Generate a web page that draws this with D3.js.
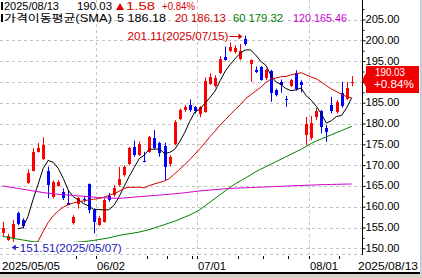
<!DOCTYPE html>
<html lang="ko">
<head>
<meta charset="utf-8">
<title>가격이동평균(SMA) 일봉 차트</title>
<script src="https://d3js.org/d3.v7.min.js"></script>
<style>
  body { margin: 0; background: #fff; }
  svg { display: block; }
  text { font-family: "Liberation Sans", Arial, sans-serif; font-size: 10px; }
  .kr { font-family: "Liberation Sans", "Noto Sans CJK KR", sans-serif; font-size: 10.5px; }
</style>
</head>
<body>
<script>
// trading days shown on the chart
var dates = [
  "2025/05/05","2025/05/06","2025/05/07","2025/05/08","2025/05/09","2025/05/12","2025/05/13","2025/05/14","2025/05/15","2025/05/16",
  "2025/05/19","2025/05/20","2025/05/21","2025/05/22","2025/05/23","2025/05/27","2025/05/28","2025/05/29","2025/05/30",
  "2025/06/02","2025/06/03","2025/06/04","2025/06/05","2025/06/06","2025/06/09","2025/06/10","2025/06/11","2025/06/12","2025/06/13",
  "2025/06/16","2025/06/17","2025/06/18","2025/06/20","2025/06/23","2025/06/24","2025/06/25","2025/06/26","2025/06/27","2025/06/30",
  "2025/07/01","2025/07/02","2025/07/03","2025/07/07","2025/07/08","2025/07/09","2025/07/10","2025/07/11","2025/07/14","2025/07/15",
  "2025/07/16","2025/07/17","2025/07/18","2025/07/21","2025/07/22","2025/07/23","2025/07/24","2025/07/25","2025/07/28","2025/07/29",
  "2025/07/30","2025/07/31","2025/08/01","2025/08/04","2025/08/05","2025/08/06","2025/08/07","2025/08/08","2025/08/11","2025/08/12",
  "2025/08/13"
];

var opens = [153.6,152.0,152.4,158.4,156.8,165.8,168.7,173.2,171.4,168.6,
  162.4,165.0,163.6,160.8,156.0,160.6,161.9,165.4,159.2,
  155.6,156.4,162.6,162.8,165.2,167.6,170.3,174.4,172.4,171.0,
  173.2,176.4,175.2,174.6,170.2,175.1,181.0,183.2,184.4,183.9,
  182.4,182.8,189.5,189.0,192.1,196.1,197.5,197.1,195.4,200.3,
  194.3,192.9,193.5,190.9,192.6,188.0,190.0,185.8,189.0,192.2,
  190.0,177.2,176.4,181.6,182.9,179.0,184.4,182.8,187.4,185.8,
  189.8];
var highs = [156.4,153.5,156.8,158.8,157.2,169.0,174.0,175.3,176.7,169.6,
  166.3,166.4,164.4,164.0,158.0,162.4,162.5,165.6,159.6,
  157.8,162.0,163.3,165.2,169.6,170.0,174.4,175.9,175.7,173.2,
  177.0,178.4,175.6,175.4,172.4,180.8,183.6,184.5,185.8,184.2,
  184.2,191.1,192.1,191.6,196.2,198.5,199.5,198.8,199.1,201.11,
  195.4,193.7,193.8,193.2,192.9,188.4,190.6,186.6,190.7,192.8,
  190.4,181.6,181.8,183.7,183.3,179.6,186.4,185.6,190.0,190.0,
  191.4];
var lows = [153.0,151.8,151.51,155.5,154.8,165.5,168.5,173.0,171.2,162.0,
  162.0,164.8,161.6,160.4,155.7,159.6,161.0,158.4,153.6,
  155.4,156.2,161.2,162.4,164.8,167.2,170.0,172.0,172.2,170.7,
  173.0,173.8,172.0,166.4,169.6,174.8,180.8,182.8,182.8,182.4,
  181.5,182.6,189.3,188.7,191.9,195.1,197.2,196.8,195.2,198.7,
  190.0,192.1,190.3,190.5,185.2,186.5,187.4,184.0,188.8,187.9,
  187.5,174.8,176.0,180.8,177.6,175.6,182.4,182.4,183.8,185.6,
  189.0];
var closes = [154.8,153.0,155.8,155.8,155.3,168.2,173.2,174.2,174.8,165.2,
  165.9,165.9,162.0,160.5,157.6,162.0,161.6,159.2,156.4,
  157.4,161.6,161.7,164.4,166.6,169.6,174.0,172.4,175.1,170.8,
  176.8,174.0,172.8,169.6,172.0,180.4,183.2,183.9,183.2,183.0,
  183.9,190.2,191.1,190.9,195.4,195.3,198.4,198.2,197.5,199.0,
  195.3,192.5,190.5,192.9,187.3,186.9,189.3,185.6,190.4,188.2,
  189.2,180.0,180.2,183.1,179.2,178.0,182.9,185.2,184.3,188.45,
  190.03];

var ma5 = [null,null,null,154.7,154.94,157.62,161.66,165.34,169.14,171.12,
  170.66,169.2,166.76,163.9,162.38,161.6,160.74,160.18,159.36,
  159.32,159.24,159.26,160.3,162.34,164.78,167.26,169.4,171.54,172.38,
  173.82,173.82,173.9,172.8,173.04,173.76,175.6,177.82,180.54,182.74,
  183.44,184.84,186.28,187.82,190.3,192.58,194.22,195.64,196.96,197.68,
  197.68,196.5,194.96,194.04,191.7,190.02,189.38,188.4,187.9,188.08,
  188.54,186.68,185.6,184.14,182.34,180.1,180.68,181.68,181.92,183.77,
  186.18];
var ma20 = [null,null,null,null,null,null,150.9,151.7,154.0,156.2,
  157.8,159.0,159.9,160.5,160.9,161.2,161.4,161.6,161.8,
  161.94,162.28,162.72,163.15,163.69,164.4,164.69,164.65,164.7,164.5,
  165.08,165.48,165.83,166.21,166.78,167.92,168.98,170.1,171.3,172.63,
  173.95,175.38,176.85,178.18,179.62,180.9,182.12,183.41,184.53,185.94,
  186.87,187.79,188.68,189.84,190.61,190.93,191.24,191.32,191.68,191.94,
  192.21,191.7,191.15,190.76,189.95,189.09,188.31,187.66,187.0,186.47,
  186.13];
var ma60 = [152.9,152.6,152.4,152.2,152.0,151.8,151.6,151.5,151.4,151.3,
  151.3,151.3,151.3,151.35,151.4,151.5,151.6,151.75,151.9,
  152.1,152.3,152.5,152.8,153.1,153.3,153.5,153.7,153.9,154.2,
  154.5,154.9,155.3,155.7,156.1,156.5,157.0,157.5,158.0,158.6,
  159.3,160.2,161.1,162.0,162.9,163.8,164.7,165.5,166.2,166.9,
  167.6,168.4,169.0,169.6,170.2,170.8,171.4,172.0,172.6,173.2,
  173.8,174.5,175.2,175.8,176.3,176.8,177.3,177.8,178.3,178.8,
  179.32];
var ma120 = [165.0,164.8,164.6,164.4,164.2,164.0,163.8,163.6,163.4,163.25,
  163.1,163.0,162.9,162.8,162.7,162.6,162.5,162.4,162.3,
  162.2,162.15,162.1,162.05,162.0,162.1,162.2,162.3,162.4,162.5,
  162.6,162.7,162.8,162.9,163.0,163.1,163.2,163.35,163.5,163.65,
  163.8,163.9,164.0,164.1,164.2,164.3,164.4,164.45,164.5,164.55,
  164.6,164.65,164.7,164.75,164.8,164.85,164.9,164.95,165.0,165.05,
  165.1,165.15,165.2,165.25,165.3,165.32,165.35,165.38,165.41,165.44,
  165.46];

var priceTicks = [150,155,160,165,170,175,180,185,190,195,200,205];
var minorTicks = [152.5,157.5,162.5,167.5,172.5,177.5,182.5,187.5,192.5,197.5,202.5,207.5];
var monthStarts = ["2025/06/02","2025/07/01","2025/08/01"];
var dateLabels = ["2025/05/05","2025/06/02","2025/07/01","2025/08/01","2025/08/13"];
var weekTicks = ["2025/05/27","2025/06/02","2025/06/16","2025/06/23","2025/06/30","2025/07/01",
  "2025/07/14","2025/07/21","2025/07/28","2025/08/01","2025/08/11"];
var maNames = ["5","20","60","120"];
var maColors = ["#000000","#d00000","#008000","#d000d0"];

var w = 422, h = 278;
var plotRight = 362, plotBottom = 254;

var xScale = d3.scalePoint().domain(dates).range([2.6, 351.7]);
var step = xScale.step();
var yScale = d3.scaleLinear().domain([150, 205]).range([248.3, 19.5]);

var svg = d3.select("body").append("svg").attr("width", w).attr("height", h);
svg.append("rect").attr("width", w).attr("height", h).attr("fill", "#fff");

svg.append("clipPath").attr("id", "plot")
  .append("rect").attr("x", 0).attr("y", 0).attr("width", plotRight).attr("height", plotBottom);

//grid
var grid = svg.append("g").attr("stroke", "#c4c4c4").attr("stroke-dasharray", "3,3");
grid.selectAll("line.h").data(priceTicks).enter().append("line")
  .attr("x1", 0).attr("x2", plotRight)
  .attr("y1", function(d) { return Math.round(yScale(d)) + 0.5; })
  .attr("y2", function(d) { return Math.round(yScale(d)) + 0.5; });
grid.selectAll("line.v").data(monthStarts).enter().append("line")
  .attr("x1", function(d) { return Math.round(xScale(d) - step / 2) + 0.5; })
  .attr("x2", function(d) { return Math.round(xScale(d) - step / 2) + 0.5; })
  .attr("y1", 0).attr("y2", plotBottom);
grid.append("line").attr("x1", 0).attr("x2", plotRight)
  .attr("y1", plotBottom + 0.5).attr("y2", plotBottom + 0.5);

var plot = svg.append("g").attr("clip-path", "url(#plot)");

//candles
var idx = d3.range(dates.length);
function cx(i) { return Math.round(xScale(dates[i])); }
function col(i) { return closes[i] >= opens[i] ? "#ff0000" : "#0000ff"; }

plot.selectAll("line.wick").data(idx).enter().append("line")
  .attr("x1", function(i) { return cx(i) + 0.5; })
  .attr("x2", function(i) { return cx(i) + 0.5; })
  .attr("y1", function(i) { return yScale(highs[i]); })
  .attr("y2", function(i) { return yScale(lows[i]); })
  .attr("stroke", col).attr("stroke-width", 1);

plot.selectAll("rect.body").data(idx).enter().append("rect")
  .attr("x", function(i) { return cx(i) - 1; })
  .attr("width", 3)
  .attr("y", function(i) { return Math.round(yScale(Math.max(opens[i], closes[i]))); })
  .attr("height", function(i) {
    return Math.max(1, Math.round(yScale(Math.min(opens[i], closes[i]))) - Math.round(yScale(Math.max(opens[i], closes[i]))));
  })
  .attr("fill", col);

//moving average lines
var mas = [ma5, ma20, ma60, ma120];
mas.forEach(function(ma, k) {
  var line = d3.line()
    .defined(function(d) { return d != null; })
    .x(function(d, i) { return xScale(dates[i]); })
    .y(function(d) { return yScale(d); });
  plot.append("path").datum(ma)
    .attr("d", line)
    .attr("fill", "none")
    .attr("stroke", maColors[k])
    .attr("stroke-width", 1);
});

//high / low markers
var hiIdx = d3.maxIndex(highs), loIdx = d3.minIndex(lows);
var hx = xScale(dates[hiIdx]) - 3, hy = yScale(highs[hiIdx]);
plot.append("text")
  .attr("x", hx - 14).attr("y", hy + 4.5)
  .attr("text-anchor", "end")
  .attr("fill", "#d00000")
  .attr("textLength", 101).attr("lengthAdjust", "spacingAndGlyphs")
  .text(highs[hiIdx].toFixed(2) + "(" + dates[hiIdx] + ")");
plot.append("line").attr("x1", hx - 13).attr("x2", hx - 3)
  .attr("y1", Math.round(hy) + 0.5).attr("y2", Math.round(hy) + 0.5)
  .attr("stroke", "#d00000");
plot.append("path")
  .attr("d", "M" + hx + "," + (Math.round(hy) + 0.5) + "l-4,-3v6z")
  .attr("fill", "#d00000");

var lx = xScale(dates[loIdx]) - 1, ly = yScale(lows[loIdx]);
plot.append("rect").attr("x", lx - 1).attr("y", ly).attr("width", 113).attr("height", 12).attr("fill", "#fff");
plot.append("line").attr("x1", lx + 2).attr("x2", lx + 7)
  .attr("y1", Math.round(ly + 5) + 0.5).attr("y2", Math.round(ly + 5) + 0.5)
  .attr("stroke", "#2020c0");
plot.append("path")
  .attr("d", "M" + lx + "," + (Math.round(ly + 5) + 0.5) + "l4,-3v6z")
  .attr("fill", "#2020c0");
plot.append("text")
  .attr("x", lx + 8).attr("y", ly + 9.5)
  .attr("fill", "#2020c0")
  .attr("textLength", 102).attr("lengthAdjust", "spacingAndGlyphs")
  .text(lows[loIdx].toFixed(2) + "(" + dates[loIdx] + ")");

//header
var last = dates.length - 1;
var chg = closes[last] - closes[last - 1];
var pct = chg / closes[last - 1] * 100;
svg.append("rect").attr("x", 1).attr("y", 2).attr("width", 2).attr("height", 8).attr("fill", "#000");
svg.append("rect").attr("x", 1).attr("y", 14).attr("width", 2).attr("height", 8).attr("fill", "#000");

var head1 = [
  { t: dates[last], x: 4, w: 55, c: "#000" },
  { t: closes[last].toFixed(2), x: 77, w: 35, c: "#000" },
  { t: chg.toFixed(2), x: 126, w: 29, c: "#e00000" },
  { t: "+" + pct.toFixed(2) + "%", x: 162, w: 33, c: "#e00000" }
];
svg.selectAll("text.h1").data(head1).enter().append("text")
  .attr("x", function(d) { return d.x; }).attr("y", 10)
  .attr("fill", function(d) { return d.c; })
  .attr("textLength", function(d) { return d.w; }).attr("lengthAdjust", "spacingAndGlyphs")
  .text(function(d) { return d.t; });
svg.append("path").attr("d", "M116,10h8l-4,-7z").attr("fill", "#e00000");

svg.append("text").attr("class", "kr")
  .attr("x", 4).attr("y", 22)
  .attr("textLength", 108).attr("lengthAdjust", "spacingAndGlyphs")
  .text("가격이동평균(SMA)");
var head2x = [117, 175, 233, 293];
var head2w = [49, 51, 50, 54];
svg.selectAll("text.h2").data(mas).enter().append("text")
  .attr("x", function(d, k) { return head2x[k]; }).attr("y", 22)
  .attr("fill", function(d, k) { return maColors[k]; })
  .attr("textLength", function(d, k) { return head2w[k]; }).attr("lengthAdjust", "spacingAndGlyphs")
  .text(function(d, k) { return maNames[k] + " " + d[last].toFixed(2); });

//price axis
var py = Math.round(yScale(closes[last])) - 2;
svg.append("line").attr("x1", plotRight + 0.5).attr("x2", plotRight + 0.5)
  .attr("y1", 0).attr("y2", plotBottom + 1).attr("stroke", "#000");

var yAxis = d3.axisRight(yScale).tickValues(priceTicks).tickSize(3).tickPadding(0)
  .tickFormat(d3.format(".2f"));
var ya = svg.append("g").attr("transform", "translate(" + (plotRight + 0.5) + ",0)").call(yAxis);
ya.select(".domain").remove();
ya.selectAll("text").attr("font-family", "Liberation Sans, Arial, sans-serif").attr("font-size", 10.5)
  .attr("dy", "0.3em").attr("textLength", 34).attr("lengthAdjust", "spacingAndGlyphs");
// the label under the price tag is covered in the original
ya.selectAll(".tick").filter(function(d) { return Math.abs(yScale(d) - py) < 14; })
  .select("text").remove();
var yMinor = d3.axisRight(yScale).tickValues(minorTicks).tickSize(2).tickFormat("");
var ym = svg.append("g").attr("transform", "translate(" + (plotRight + 0.5) + ",0)").call(yMinor);
ym.select(".domain").remove();

//current price tag
svg.append("path")
  .attr("d", "M" + plotRight + "," + py + "L366," + (py - 7) + "V" + (py - 14) + "H419V" + (py + 13) + "H366V" + (py + 7) + "Z")
  .attr("fill", "#f00000");
svg.append("text").attr("x", 375).attr("y", py - 4).attr("fill", "#fff")
  .attr("textLength", 30).attr("lengthAdjust", "spacingAndGlyphs")
  .text(closes[last].toFixed(2));
svg.append("text").attr("x", 374).attr("y", py + 8).attr("fill", "#fff")
  .attr("textLength", 40).attr("lengthAdjust", "spacingAndGlyphs")
  .text("+" + pct.toFixed(2) + "%");

//date axis
svg.selectAll("line.wt").data(weekTicks).enter().append("line")
  .attr("x1", function(d) { return Math.round(xScale(d) - step / 2) + 0.5; })
  .attr("x2", function(d) { return Math.round(xScale(d) - step / 2) + 0.5; })
  .attr("y1", 256).attr("y2", 259)
  .attr("stroke", "#000");

var dl = svg.selectAll("text.dl").data(dateLabels).enter().append("text")
  .attr("y", 269.5).attr("font-size", 11)
  .text(function(d, k) { return (k == 0 || k == dateLabels.length - 1) ? d : d.slice(5); });
dl.each(function(d, k) {
  var t = d3.select(this);
  if (k == 0) t.attr("x", 2).attr("textLength", 58);
  else if (k == dateLabels.length - 1) t.attr("x", 418).attr("text-anchor", "end").attr("textLength", 60);
  else t.attr("x", Math.round(xScale(d) - step / 2) + 1).attr("textLength", 28);
  t.attr("lengthAdjust", "spacingAndGlyphs");
});

svg.append("rect").attr("x", 0).attr("y", 272).attr("width", w).attr("height", 2).attr("fill", "#000");
svg.append("rect").attr("x", 0).attr("y", 274).attr("width", w).attr("height", 4).attr("fill", "#d4d0c8");
svg.append("rect").attr("x", 420).attr("y", 0).attr("width", 2).attr("height", 274).attr("fill", "#c8ccd4");
</script>
</body>
</html>
